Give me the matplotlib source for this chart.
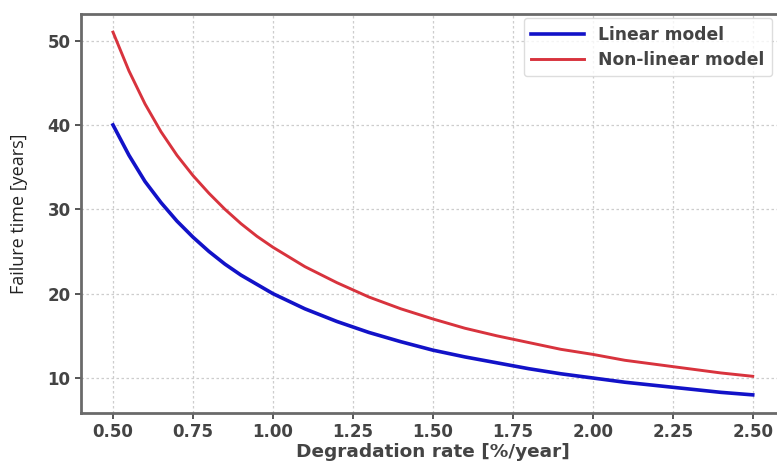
import matplotlib
matplotlib.use("Agg")
import matplotlib.pyplot as plt

rate = [0.50, 0.55, 0.60, 0.65, 0.70, 0.75, 0.80, 0.85, 0.90, 0.95, 1.00,
        1.10, 1.20, 1.30, 1.40, 1.50, 1.60, 1.70, 1.80, 1.90, 2.00,
        2.10, 2.20, 2.30, 2.40, 2.50]
linear = [40.0, 36.4, 33.3, 30.8, 28.6, 26.7, 25.0, 23.5, 22.2, 21.1, 20.0,
          18.2, 16.7, 15.4, 14.3, 13.3, 12.5, 11.8, 11.1, 10.5, 10.0,
          9.5, 9.1, 8.7, 8.3, 8.0]
nonlinear = [51.0, 46.4, 42.5, 39.2, 36.4, 34.0, 31.9, 30.0, 28.3, 26.8, 25.5,
             23.2, 21.3, 19.6, 18.2, 17.0, 15.9, 15.0, 14.2, 13.4, 12.8,
             12.1, 11.6, 11.1, 10.6, 10.2]
xticks = [0.50, 0.75, 1.00, 1.25, 1.50, 1.75, 2.00, 2.25, 2.50]
yticks = [10, 20, 30, 40, 50]

txt = '#444444'
fig = plt.figure(figsize=(7.77, 4.63), dpi=100)
ax = fig.add_axes([81/777, 1-413/463, (784.7-81)/777, (413-14)/463])

ax.plot(rate, linear, color='#1212c8', lw=2.6, label='Linear model', zorder=3)
ax.plot(rate, nonlinear, color='#d8333d', lw=2.1, label='Non-linear model', zorder=3)

ax.set_xlim(0.4, 2.6)
ax.set_ylim(5.85, 53.15)
ax.set_xticks(xticks)
ax.set_xticklabels([f'{v:.2f}' for v in xticks])
ax.set_yticks(yticks)
ax.grid(True, color='#cdcdcd', linestyle=(0, (2, 2)), lw=0.9)
ax.set_axisbelow(True)

for s in ax.spines.values():
    s.set_color('#6a6a6a')
    s.set_linewidth(2.0)
ax.tick_params(colors='#555555', labelcolor=txt, labelsize=12, width=1.4, length=4)
for lab in ax.get_xticklabels() + ax.get_yticklabels():
    lab.set_fontweight('bold')

ax.set_xlabel('Degradation rate [%/year]', fontsize=13.3, fontweight='bold',
              color=txt, labelpad=1)
ax.set_ylabel('Failure time [years]', fontsize=13, family='Open Sans',
              color='#222222', labelpad=14)

leg = ax.legend(loc='upper right', frameon=True,
                prop={'weight': 'bold', 'size': 12.3},
                handlelength=3.1, handletextpad=0.8, borderpad=0.45,
                labelspacing=0.4, borderaxespad=0.0,
                bbox_to_anchor=(772/777, 1-18/463), bbox_transform=fig.transFigure)
for t in leg.get_texts():
    t.set_color(txt)
leg.get_frame().set_edgecolor('#d5d5d5')
leg.get_frame().set_linewidth(1.0)

fig.savefig('out.png', dpi=100)
